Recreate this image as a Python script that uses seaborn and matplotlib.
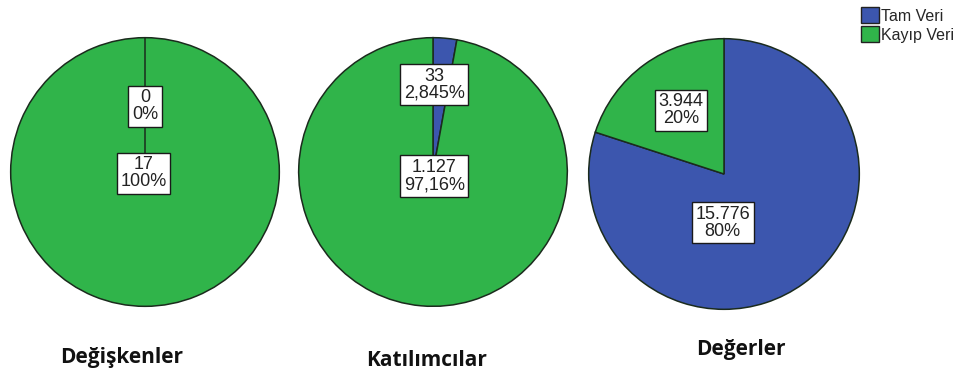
import matplotlib
matplotlib.use("Agg")
import matplotlib.pyplot as plt
from matplotlib.patches import Patch
import seaborn as sns

sns.set_theme(style="white")
plt.rcParams['font.family'] = ['Liberation Sans', 'DejaVu Sans']

# ---- data ----
categories = ["Tam Veri", "Kayıp Veri"]
titles = ["Değişkenler", "Katılımcılar", "Değerler"]
counts_degiskenler = [0, 17]
counts_katilimcilar = [33, 1127]
counts_degerler = [15776, 3944]
count_labels = [["0", "17"], ["33", "1.127"], ["15.776", "3.944"]]
pct_labels = [["0%", "100%"], ["2,845%", "97,16%"], ["80%", "20%"]]

series = [counts_degiskenler, counts_katilimcilar, counts_degerler]
colors = ["#3c56ae", "#30b44a"]
edge = "#1b2b1d"

W, H = 973, 378
fig = plt.figure(figsize=(W / 100, H / 100), dpi=100)

# layout (pixels): center x, center y, radius
layout = [(145, 172, 135), (433, 172, 135), (724, 174, 136)]
# label offsets in radius units (per wedge)
label_offsets = [[(0.0, 0.49), (-0.01, -0.01)],
                 [(0.01, 0.65), (0.01, -0.03)],
                 [(-0.01, -0.36), (-0.32, 0.47)]]
title_pos = [(122, 357), (427, 360), (741, 349)]

for i, vals in enumerate(series):
    cx, cy, r = layout[i]
    ax = fig.add_axes([(cx - r) / W, (H - cy - r) / H, 2 * r / W, 2 * r / H])
    wedges, _ = ax.pie(vals, colors=colors, startangle=90, counterclock=False,
                       radius=1, wedgeprops=dict(edgecolor=edge, linewidth=1.1))
    # keep zero-width wedge boundaries visible on top
    for w, v in zip(wedges, vals):
        if v == 0:
            w.set_zorder(3)
    ax.set_xlim(-1.005, 1.005)
    ax.set_ylim(-1.005, 1.005)
    ax.set_aspect("equal")
    ax.axis("off")
    for j in range(len(vals)):
        dx, dy = label_offsets[i][j]
        ax.text(dx, dy, f"{count_labels[i][j]}\n{pct_labels[i][j]}",
                ha="center", va="center", fontsize=13, color="#222222",
                linespacing=1.0, zorder=5,
                bbox=dict(boxstyle="square,pad=0.2", facecolor="white",
                          edgecolor="#1a1a1a", linewidth=1.0))
    tx, ty = title_pos[i]
    fig.text(tx / W, 1 - ty / H, titles[i], ha="center", va="center",
             fontsize=15, fontweight="bold", family=["Open Sans", "DejaVu Sans"],
             color="#111111")

handles = [Patch(facecolor=c, edgecolor="#222222", linewidth=1.0) for c in colors]
fig.legend(handles, categories, loc="upper left",
           bbox_to_anchor=(861 / W, 1 - 7 / H), frameon=False,
           borderaxespad=0, borderpad=0, fontsize=11.5,
           handlelength=1.1, handleheight=1.2, handletextpad=0.15,
           labelspacing=0.15)

fig.savefig("out.png", dpi=100, facecolor="white")
